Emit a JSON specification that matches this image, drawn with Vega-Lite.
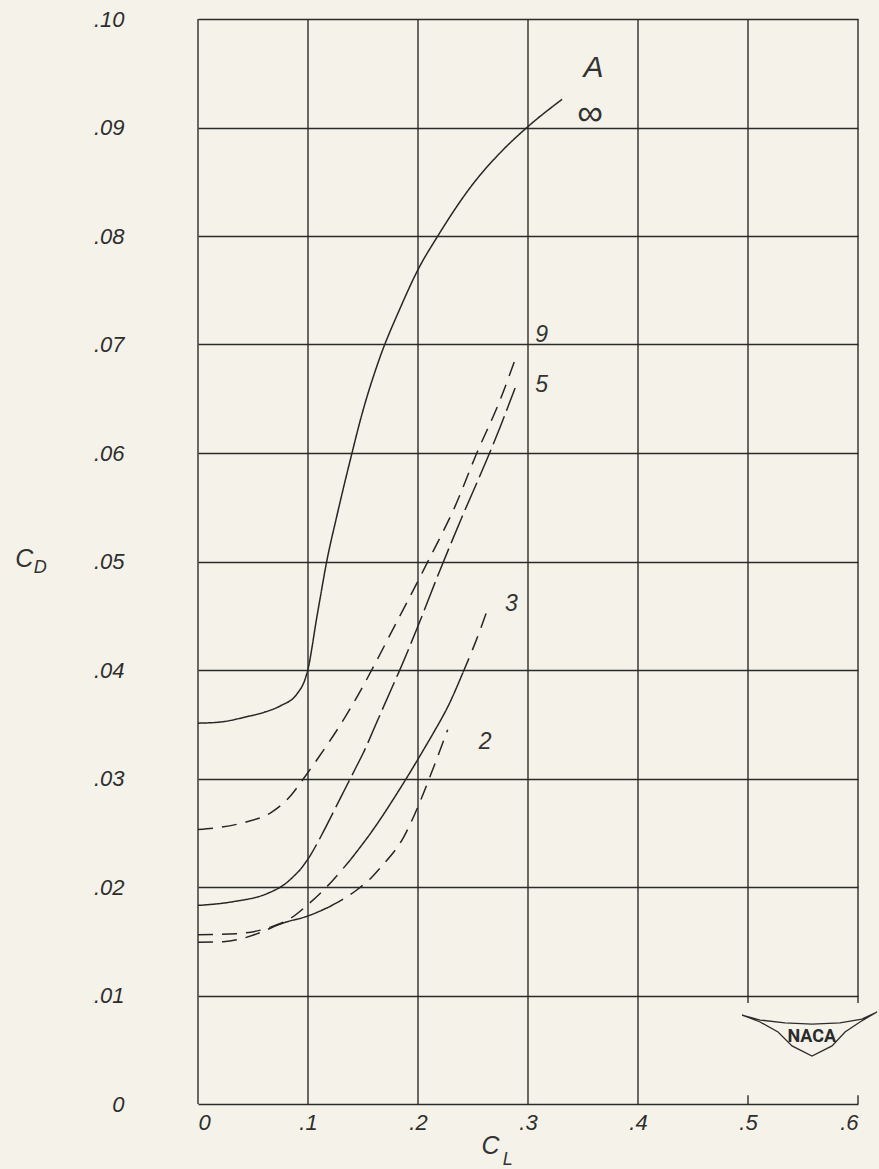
{
  "$schema": "https://vega.github.io/schema/vega-lite/v6.json",
  "width": 660,
  "height": 1085,
  "autosize": {"type": "none"},
  "padding": {"left": 198, "top": 19, "right": 21, "bottom": 65},
  "background": "#f5f3e9",
  "config": {"view": {"stroke": null}, "font": "Liberation Sans"},
  "datasets": {
    "grid": [
      {"cl": 0, "lo": 0, "hi": 0.1},
      {"cl": 0.1, "lo": 0, "hi": 0.1},
      {"cl": 0.2, "lo": 0, "hi": 0.1},
      {"cl": 0.3, "lo": 0, "hi": 0.1},
      {"cl": 0.4, "lo": 0, "hi": 0.1},
      {"cl": 0.5, "lo": 0.0093, "hi": 0.1},
      {"cl": 0.6, "lo": 0.0093, "hi": 0.1},
      {"cl": 0.5, "lo": 0, "hi": 0.0008},
      {"cl": 0.6, "lo": 0, "hi": 0.0008}
    ],
    "curves": [
      {"seg": "inf", "style": "solid", "cl": 0, "cd": 0.0351},
      {"seg": "inf", "style": "solid", "cl": 0.02, "cd": 0.0352},
      {"seg": "inf", "style": "solid", "cl": 0.0445, "cd": 0.0357},
      {"seg": "inf", "style": "solid", "cl": 0.06, "cd": 0.0361},
      {"seg": "inf", "style": "solid", "cl": 0.075, "cd": 0.0367},
      {"seg": "inf", "style": "solid", "cl": 0.09, "cd": 0.0378},
      {"seg": "inf", "style": "solid", "cl": 0.0975, "cd": 0.0392},
      {"seg": "inf", "style": "solid", "cl": 0.1005, "cd": 0.0403},
      {"seg": "inf", "style": "solid", "cl": 0.1035, "cd": 0.042},
      {"seg": "inf", "style": "solid", "cl": 0.1066, "cd": 0.044},
      {"seg": "inf", "style": "solid", "cl": 0.111, "cd": 0.0466},
      {"seg": "inf", "style": "solid", "cl": 0.117, "cd": 0.05},
      {"seg": "inf", "style": "solid", "cl": 0.126, "cd": 0.0541},
      {"seg": "inf", "style": "solid", "cl": 0.14, "cd": 0.06},
      {"seg": "inf", "style": "solid", "cl": 0.1475, "cd": 0.063},
      {"seg": "inf", "style": "solid", "cl": 0.165, "cd": 0.0687},
      {"seg": "inf", "style": "solid", "cl": 0.184, "cd": 0.0734},
      {"seg": "inf", "style": "solid", "cl": 0.2, "cd": 0.0769},
      {"seg": "inf", "style": "solid", "cl": 0.218, "cd": 0.08},
      {"seg": "inf", "style": "solid", "cl": 0.25, "cd": 0.0848},
      {"seg": "inf", "style": "solid", "cl": 0.275, "cd": 0.0877},
      {"seg": "inf", "style": "solid", "cl": 0.299, "cd": 0.09},
      {"seg": "inf", "style": "solid", "cl": 0.331, "cd": 0.0926},

      {"seg": "9", "style": "dash", "cl": 0, "cd": 0.0253},
      {"seg": "9", "style": "dash", "cl": 0.04, "cd": 0.0259},
      {"seg": "9", "style": "dash", "cl": 0.067, "cd": 0.0269},
      {"seg": "9", "style": "dash", "cl": 0.085, "cd": 0.0285},
      {"seg": "9", "style": "dash", "cl": 0.096, "cd": 0.03},
      {"seg": "9", "style": "dash", "cl": 0.11, "cd": 0.032},
      {"seg": "9", "style": "dash", "cl": 0.134, "cd": 0.0357},
      {"seg": "9", "style": "dash", "cl": 0.1505, "cd": 0.0386},
      {"seg": "9", "style": "dash", "cl": 0.16, "cd": 0.0404},
      {"seg": "9", "style": "dash", "cl": 0.18, "cd": 0.0443},
      {"seg": "9", "style": "dash", "cl": 0.199, "cd": 0.048},
      {"seg": "9", "style": "dash", "cl": 0.208, "cd": 0.0498},
      {"seg": "9", "style": "dash", "cl": 0.223, "cd": 0.0528},
      {"seg": "9", "style": "dash", "cl": 0.232, "cd": 0.0547},
      {"seg": "9", "style": "dash", "cl": 0.2535, "cd": 0.06},
      {"seg": "9", "style": "dash", "cl": 0.2747, "cd": 0.0649},
      {"seg": "9", "style": "dash", "cl": 0.29, "cd": 0.0691},

      {"seg": "5a", "style": "solid", "cl": 0, "cd": 0.0183},
      {"seg": "5a", "style": "solid", "cl": 0.032, "cd": 0.01865},
      {"seg": "5a", "style": "solid", "cl": 0.063, "cd": 0.0194},
      {"seg": "5a", "style": "solid", "cl": 0.078, "cd": 0.0202},
      {"seg": "5a", "style": "solid", "cl": 0.093, "cd": 0.0216},
      {"seg": "5b", "style": "long", "cl": 0.093, "cd": 0.0216},
      {"seg": "5b", "style": "long", "cl": 0.102, "cd": 0.0229},
      {"seg": "5b", "style": "long", "cl": 0.114, "cd": 0.0251},
      {"seg": "5b", "style": "long", "cl": 0.126, "cd": 0.0275},
      {"seg": "5b", "style": "long", "cl": 0.134, "cd": 0.0291},
      {"seg": "5b", "style": "long", "cl": 0.143, "cd": 0.0309},
      {"seg": "5b", "style": "long", "cl": 0.15, "cd": 0.0323},
      {"seg": "5b", "style": "long", "cl": 0.163, "cd": 0.0353},
      {"seg": "5b", "style": "long", "cl": 0.176, "cd": 0.0383},
      {"seg": "5b", "style": "long", "cl": 0.183, "cd": 0.0399},
      {"seg": "5b", "style": "long", "cl": 0.199, "cd": 0.0438},
      {"seg": "5b", "style": "long", "cl": 0.22, "cd": 0.0492},
      {"seg": "5b", "style": "long", "cl": 0.24, "cd": 0.0541},
      {"seg": "5b", "style": "long", "cl": 0.2626, "cd": 0.0594},
      {"seg": "5b", "style": "long", "cl": 0.2747, "cd": 0.0624},
      {"seg": "5b", "style": "long", "cl": 0.2883, "cd": 0.066},

      {"seg": "3a", "style": "dash", "cl": 0, "cd": 0.0156},
      {"seg": "3a", "style": "dash", "cl": 0.035, "cd": 0.0157},
      {"seg": "3a", "style": "dash", "cl": 0.066, "cd": 0.0163},
      {"seg": "3a", "style": "dash", "cl": 0.084, "cd": 0.0171},
      {"seg": "3a", "style": "dash", "cl": 0.099, "cd": 0.0183},
      {"seg": "3a", "style": "dash", "cl": 0.114, "cd": 0.0197},
      {"seg": "3a", "style": "dash", "cl": 0.1385, "cd": 0.0225},
      {"seg": "3b", "style": "solid", "cl": 0.1385, "cd": 0.0225},
      {"seg": "3b", "style": "solid", "cl": 0.16, "cd": 0.0254},
      {"seg": "3b", "style": "solid", "cl": 0.182, "cd": 0.0288},
      {"seg": "3b", "style": "solid", "cl": 0.193, "cd": 0.0306},
      {"seg": "3b", "style": "solid", "cl": 0.2065, "cd": 0.0329},
      {"seg": "3b", "style": "solid", "cl": 0.214, "cd": 0.0342},
      {"seg": "3b", "style": "solid", "cl": 0.228, "cd": 0.0368},
      {"seg": "3b", "style": "solid", "cl": 0.241, "cd": 0.0398},
      {"seg": "3c", "style": "dash", "cl": 0.241, "cd": 0.0398},
      {"seg": "3c", "style": "dash", "cl": 0.252, "cd": 0.0425},
      {"seg": "3c", "style": "dash", "cl": 0.264, "cd": 0.0458},

      {"seg": "2a", "style": "dash", "cl": 0, "cd": 0.0149},
      {"seg": "2a", "style": "dash", "cl": 0.023, "cd": 0.01496},
      {"seg": "2a", "style": "dash", "cl": 0.054, "cd": 0.0157},
      {"seg": "2a", "style": "dash", "cl": 0.07, "cd": 0.0164},
      {"seg": "2b", "style": "solid", "cl": 0.07, "cd": 0.0164},
      {"seg": "2b", "style": "solid", "cl": 0.078, "cd": 0.0167},
      {"seg": "2b", "style": "solid", "cl": 0.099, "cd": 0.0173},
      {"seg": "2b", "style": "solid", "cl": 0.12, "cd": 0.0182},
      {"seg": "2c", "style": "dash", "cl": 0.12, "cd": 0.0182},
      {"seg": "2c", "style": "dash", "cl": 0.144, "cd": 0.0197},
      {"seg": "2c", "style": "dash", "cl": 0.158, "cd": 0.0209},
      {"seg": "2c", "style": "dash", "cl": 0.166, "cd": 0.0218},
      {"seg": "2c", "style": "dash", "cl": 0.187, "cd": 0.0246},
      {"seg": "2c", "style": "dash", "cl": 0.202, "cd": 0.0279},
      {"seg": "2c", "style": "dash", "cl": 0.211, "cd": 0.0302},
      {"seg": "2c", "style": "dash", "cl": 0.227, "cd": 0.0345}
    ],
    "emblem": [
      {"i": 0, "cl": 0.4946, "cd": 0.0082},
      {"i": 1, "cl": 0.511, "cd": 0.00774},
      {"i": 2, "cl": 0.5336, "cd": 0.00747},
      {"i": 3, "cl": 0.5582, "cd": 0.00737},
      {"i": 4, "cl": 0.5836, "cd": 0.00747},
      {"i": 5, "cl": 0.6036, "cd": 0.00783},
      {"i": 6, "cl": 0.6172, "cd": 0.00848},
      {"i": 7, "cl": 0.6018, "cd": 0.00756},
      {"i": 8, "cl": 0.5882, "cd": 0.00664},
      {"i": 9, "cl": 0.5764, "cd": 0.00535},
      {"i": 10, "cl": 0.5582, "cd": 0.00442},
      {"i": 11, "cl": 0.54, "cd": 0.00535},
      {"i": 12, "cl": 0.5273, "cd": 0.00664},
      {"i": 13, "cl": 0.511, "cd": 0.00756},
      {"i": 14, "cl": 0.4946, "cd": 0.0082}
    ],
    "notes": [
      {"kind": "big", "t": "A", "cl": 0.3595, "cd": 0.0955},
      {"kind": "inf", "t": "∞", "cl": 0.3565, "cd": 0.0912},
      {"kind": "curve", "t": "9", "cl": 0.3125, "cd": 0.0709},
      {"kind": "curve", "t": "5", "cl": 0.3125, "cd": 0.0663},
      {"kind": "curve", "t": "3", "cl": 0.285, "cd": 0.0461},
      {"kind": "curve", "t": "2", "cl": 0.261, "cd": 0.0334},
      {"kind": "title", "t": "C", "cl": 0.266, "cd": -0.0039},
      {"kind": "sub", "t": "L", "cl": 0.2815, "cd": -0.0052},
      {"kind": "title", "t": "C", "cl": -0.158, "cd": 0.0502},
      {"kind": "sub", "t": "D", "cl": -0.1435, "cd": 0.0494},
      {"kind": "logo", "t": "NACA", "cl": 0.558, "cd": 0.0062}
    ]
  },
  "layer": [
    {
      "data": {"name": "grid"},
      "mark": {"type": "rule", "color": "#2b2b2b", "strokeWidth": 1.4},
      "encoding": {
        "x": {
          "field": "cl",
          "type": "quantitative",
          "title": null,
          "scale": {"domain": [0, 0.6], "nice": false, "zero": false},
          "axis": {
            "values": [0, 0.1, 0.2, 0.3, 0.4, 0.5, 0.6],
            "labelExpr": "datum.value == 0 ? '0' : replace(format(datum.value, '.1f'), '0.', '.')",
            "grid": false,
            "domain": false,
            "ticks": false,
            "labelPadding": 8,
            "labelFontSize": 22,
            "labelFontStyle": "italic",
            "labelColor": "#2e2e2e",
            "labelFont": "Liberation Sans"
          }
        },
        "y": {
          "field": "lo",
          "type": "quantitative",
          "title": null,
          "scale": {"domain": [0, 0.1], "nice": false, "zero": false},
          "axis": {
            "values": [0, 0.01, 0.02, 0.03, 0.04, 0.05, 0.06, 0.07, 0.08, 0.09, 0.1],
            "labelExpr": "datum.value == 0 ? '0' : replace(format(datum.value, '.2f'), '0.', '.')",
            "grid": true,
            "gridColor": "#2b2b2b",
            "gridWidth": 1.4,
            "gridOpacity": 1,
            "domain": false,
            "ticks": false,
            "labelPadding": 74,
            "labelFontSize": 22,
            "labelFontStyle": "italic",
            "labelColor": "#2e2e2e",
            "labelFont": "Liberation Sans"
          }
        },
        "y2": {"field": "hi"}
      }
    },
    {
      "data": {"name": "curves"},
      "mark": {"type": "line", "color": "#262626", "strokeWidth": 1.5, "interpolate": "monotone"},
      "encoding": {
        "x": {"field": "cl", "type": "quantitative", "title": null},
        "y": {"field": "cd", "type": "quantitative", "title": null},
        "detail": {"field": "seg", "type": "nominal"},
        "strokeDash": {
          "field": "style",
          "type": "nominal",
          "scale": {"domain": ["solid", "dash", "long"], "range": [[1, 0], [15, 9], [30, 6]]},
          "legend": null
        }
      }
    },
    {
      "data": {"name": "emblem"},
      "mark": {"type": "line", "color": "#2b2b2b", "strokeWidth": 1.3, "interpolate": "linear"},
      "encoding": {
        "x": {"field": "cl", "type": "quantitative", "title": null},
        "y": {"field": "cd", "type": "quantitative", "title": null},
        "order": {"field": "i", "type": "quantitative"}
      }
    },
    {
      "data": {"name": "notes"},
      "transform": [{"filter": "datum.kind == 'curve'"}],
      "mark": {"type": "text", "fontSize": 23, "fontStyle": "italic", "color": "#333333", "align": "center", "baseline": "middle"},
      "encoding": {
        "x": {"field": "cl", "type": "quantitative", "title": null},
        "y": {"field": "cd", "type": "quantitative", "title": null},
        "text": {"field": "t"}
      }
    },
    {
      "data": {"name": "notes"},
      "transform": [{"filter": "datum.kind == 'big'"}],
      "mark": {"type": "text", "fontSize": 30, "fontStyle": "italic", "color": "#333333", "align": "center", "baseline": "middle"},
      "encoding": {
        "x": {"field": "cl", "type": "quantitative", "title": null},
        "y": {"field": "cd", "type": "quantitative", "title": null},
        "text": {"field": "t"}
      }
    },
    {
      "data": {"name": "notes"},
      "transform": [{"filter": "datum.kind == 'inf'"}],
      "mark": {"type": "text", "fontSize": 36, "color": "#333333", "align": "center", "baseline": "middle"},
      "encoding": {
        "x": {"field": "cl", "type": "quantitative", "title": null},
        "y": {"field": "cd", "type": "quantitative", "title": null},
        "text": {"field": "t"}
      }
    },
    {
      "data": {"name": "notes"},
      "transform": [{"filter": "datum.kind == 'title'"}],
      "mark": {"type": "text", "fontSize": 25, "fontStyle": "italic", "color": "#333333", "align": "center", "baseline": "middle"},
      "encoding": {
        "x": {"field": "cl", "type": "quantitative", "title": null},
        "y": {"field": "cd", "type": "quantitative", "title": null},
        "text": {"field": "t"}
      }
    },
    {
      "data": {"name": "notes"},
      "transform": [{"filter": "datum.kind == 'sub'"}],
      "mark": {"type": "text", "fontSize": 18, "fontStyle": "italic", "color": "#333333", "align": "center", "baseline": "middle"},
      "encoding": {
        "x": {"field": "cl", "type": "quantitative", "title": null},
        "y": {"field": "cd", "type": "quantitative", "title": null},
        "text": {"field": "t"}
      }
    },
    {
      "data": {"name": "notes"},
      "transform": [{"filter": "datum.kind == 'logo'"}],
      "mark": {"type": "text", "fontSize": 18, "fontWeight": "bold", "font": "Roboto", "color": "#2b2b2b", "align": "center", "baseline": "middle"},
      "encoding": {
        "x": {"field": "cl", "type": "quantitative", "title": null},
        "y": {"field": "cd", "type": "quantitative", "title": null},
        "text": {"field": "t"}
      }
    }
  ]
}
